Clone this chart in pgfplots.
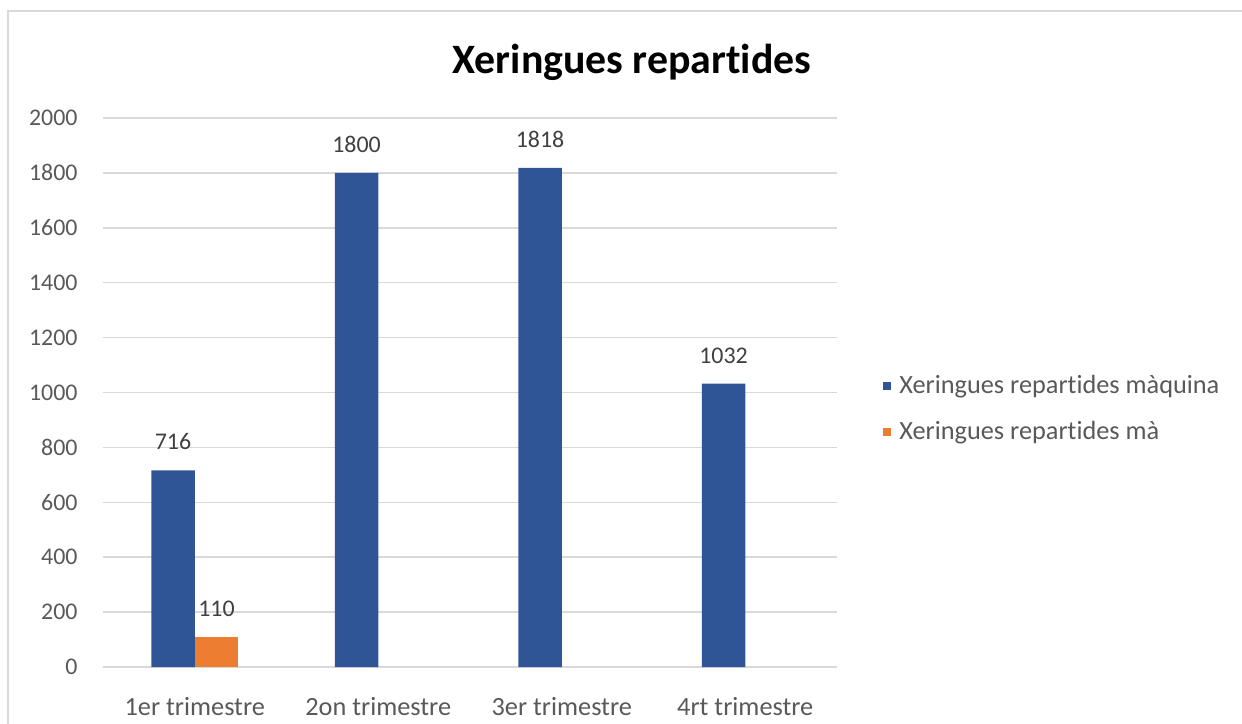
\documentclass[border=0pt]{standalone}
\usepackage{pgfplots}
\pgfplotsset{compat=1.18}
\usepackage{fontspec}
\setmainfont{Carlito}[Ligatures=NoCommon]
\definecolor{barblue}{RGB}{47,85,151}
\definecolor{barorange}{RGB}{237,125,49}
\definecolor{gridgray}{RGB}{217,217,217}
\definecolor{ticktext}{RGB}{89,89,89}
\definecolor{labeltext}{RGB}{64,64,64}
\begin{document}
\begin{tikzpicture}
\useasboundingbox (0,0) rectangle (621bp,362bp);
\draw[gridgray, line width=1bp] (4bp,0) -- (4bp,356.5bp) -- (621bp,356.5bp);
\node[font=\bfseries\fontsize{21}{24}\selectfont, text=black] at (316bp,331bp) {Xeringues repartides};
\begin{axis}[
  at={(51.5bp,28.5bp)}, anchor=south west,
  scale only axis, width=367bp, height=274.5bp,
  xmin=-0.5, xmax=3.5, ymin=0, ymax=2000,
  xtick={0,1,2,3},
  xticklabels={1er trimestre, 2on trimestre, 3er trimestre, 4rt trimestre},
  ytick={0,200,...,2000},
  ymajorgrids, grid style={gridgray, line width=0.75bp},
  axis line style={draw=none}, tick style={draw=none},
  ticklabel style={font=\fontsize{12}{14}\selectfont, text=ticktext},
  /pgf/number format/assume math mode=true,
  /pgf/number format/1000 sep={},
  yticklabel style={anchor=east, inner sep=0pt, xshift=-12.5bp},
  xticklabel style={anchor=center, inner sep=0pt, yshift=-15.5bp, font=\fontsize{13.2}{15}\selectfont},
  clip=false,
  ybar, bar width=0.237,
  nodes near coords,
  nodes near coords style={anchor=south, inner sep=0pt, yshift=10bp, font=\fontsize{12}{14}\selectfont, text=labeltext, /pgf/number format/assume math mode=true},
  legend style={at={(1.0627,0.47)}, anchor=west, draw=none, fill=none, inner sep=0pt,
    font=\fontsize{13.2}{15}\selectfont, text=ticktext, row sep=8bp, cells={anchor=west},
    nodes={inner xsep=4bp}},
  legend image code/.code={\fill[#1] (0bp,-2bp) rectangle (4bp,2bp);},
]
\addplot[fill=barblue, draw=none, bar shift=-0.1185] coordinates {(0,716) (1,1800) (2,1818) (3,1032)};
\addlegendentry{Xeringues repartides màquina}
\addplot[fill=barorange, draw=none, bar shift=0.1185] coordinates {(0,110)};
\addlegendentry{Xeringues repartides mà}
\end{axis}
\end{tikzpicture}
\end{document}
